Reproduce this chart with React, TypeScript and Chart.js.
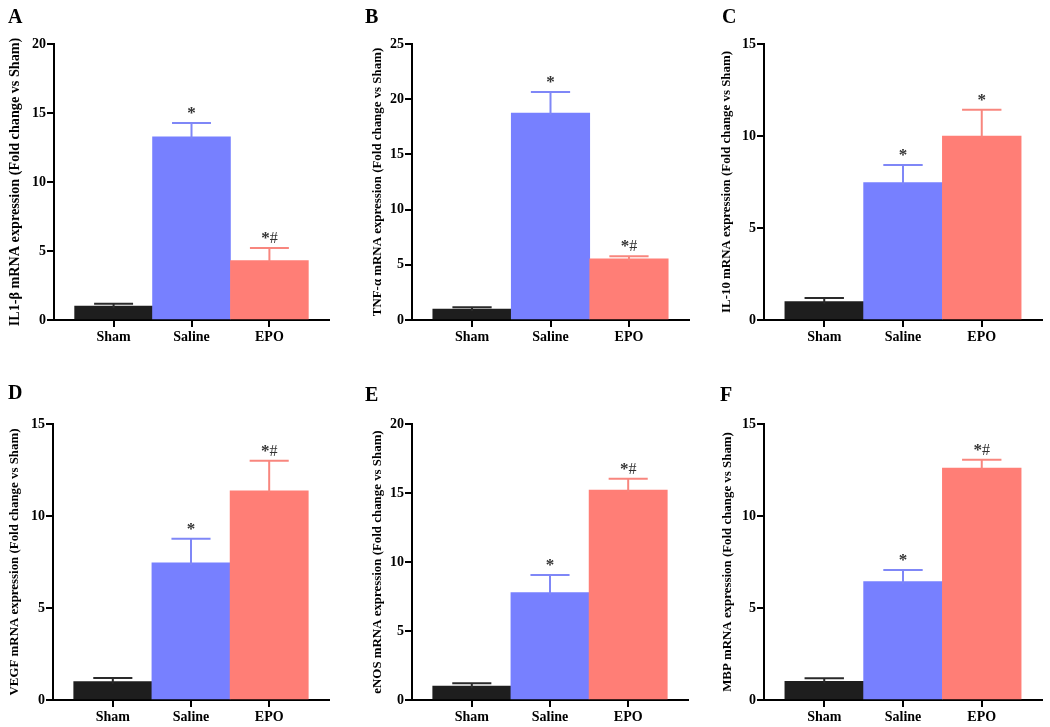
import React, { useEffect, useRef } from 'react';
import { Chart, registerables } from 'chart.js';

Chart.register(...registerables);

const FONT = "'Liberation Serif', 'Times New Roman', serif";

// ---- data ----
const categories = ['Sham', 'Saline', 'EPO'];
const barColors = ['#1e1e1e', '#7780ff', '#ff7e76'];
const errColors = ['#2a2a2a', '#7f87f7', '#f8867e'];

const il1bMean = [1.0, 13.28, 4.3];
const il1bErr = [0.17, 1.0, 0.92];
const il1bMarks = ['', '*', '*#'];

const tnfMean = [1.0, 18.75, 5.53];
const tnfErr = [0.15, 1.9, 0.25];
const tnfMarks = ['', '*', '*#'];

const il10Mean = [1.0, 7.47, 9.99];
const il10Err = [0.2, 0.95, 1.43];
const il10Marks = ['', '*', '*'];

const vegfMean = [1.0, 7.45, 11.37];
const vegfErr = [0.19, 1.32, 1.63];
const vegfMarks = ['', '*', '*#'];

const enosMean = [1.0, 7.78, 15.22];
const enosErr = [0.22, 1.28, 0.82];
const enosMarks = ['', '*', '*#'];

const mbpMean = [1.02, 6.43, 12.61];
const mbpErr = [0.16, 0.64, 0.45];
const mbpMarks = ['', '*', '*#'];

const panelLetters = ['A', 'B', 'C', 'D', 'E', 'F'];
const yTitles = [
  'IL1-β mRNA expression (Fold change vs Sham)',
  'TNF-α mRNA expression (Fold change vs Sham)',
  'IL-10 mRNA expression (Fold change vs Sham)',
  'VEGF mRNA expression (Fold change vs Sham)',
  'eNOS mRNA expression (Fold change vs Sham)',
  'MBP mRNA expression (Fold change vs Sham)',
];
const yMaxima = [20, 25, 15, 15, 20, 15];
const yStep = 5;

const panelData = [
  { mean: il1bMean, err: il1bErr, marks: il1bMarks },
  { mean: tnfMean, err: tnfErr, marks: tnfMarks },
  { mean: il10Mean, err: il10Err, marks: il10Marks },
  { mean: vegfMean, err: vegfErr, marks: vegfMarks },
  { mean: enosMean, err: enosErr, marks: enosMarks },
  { mean: mbpMean, err: mbpErr, marks: mbpMarks },
];

// ---- layout (pixels) ----
const layouts = [
  { left: 0, top: 0, w: 350, h: 360, axisL: 54, axisR: 329, areaT: 44, areaB: 320, titleX: 15, titleSize: 14.2, letterX: 8, letterY: 6 },
  { left: 350, top: 0, w: 350, h: 360, axisL: 62, axisR: 339, areaT: 44, areaB: 320, titleX: 28, titleSize: 12.9, letterX: 15, letterY: 6 },
  { left: 700, top: 0, w: 350, h: 360, axisL: 64, axisR: 342, areaT: 44, areaB: 320, titleX: 27, titleSize: 12.9, letterX: 22, letterY: 6 },
  { left: 0, top: 380, w: 350, h: 347, axisL: 53, axisR: 329, areaT: 44, areaB: 320, titleX: 15, titleSize: 12.9, letterX: 8, letterY: 2 },
  { left: 350, top: 380, w: 350, h: 347, axisL: 62, axisR: 338, areaT: 44, areaB: 320, titleX: 28, titleSize: 12.9, letterX: 15, letterY: 4 },
  { left: 700, top: 380, w: 350, h: 347, axisL: 64, axisR: 342, areaT: 44, areaB: 320, titleX: 28, titleSize: 12.9, letterX: 20, letterY: 4 },
];

function Panel({ idx }: { idx: number }) {
  const ref = useRef<HTMLCanvasElement | null>(null);
  const L = layouts[idx];
  useEffect(() => {
    const d = panelData[idx];
    const errorPlugin = {
      id: 'errbars' + idx,
      afterDatasetsDraw(chart: any) {
        const ctx = chart.ctx;
        const meta = chart.getDatasetMeta(0);
        const ys = chart.scales.y;
        meta.data.forEach((el: any, i: number) => {
          const x = el.x;
          const yTop = el.y;
          const yCap = ys.getPixelForValue(d.mean[i] + d.err[i]);
          const half = el.width / 4;
          ctx.save();
          ctx.strokeStyle = errColors[i];
          ctx.lineWidth = 2;
          ctx.beginPath();
          ctx.moveTo(x, yTop + 2);
          ctx.lineTo(x, yCap);
          ctx.stroke();
          ctx.beginPath();
          ctx.moveTo(x - half, yCap);
          ctx.lineTo(x + half, yCap);
          ctx.stroke();
          const mark = d.marks[i];
          if (mark) {
            const parts = mark.split('').map((c: string) => ({
              c,
              font: (c === '*' ? 'bold 17px ' : '16px ') + FONT,
              w: 0,
            }));
            let total = 0;
            parts.forEach((p: any) => {
              ctx.font = p.font;
              p.w = ctx.measureText(p.c).width;
              total += p.w;
            });
            let cx = x - total / 2;
            ctx.fillStyle = '#333333';
            ctx.textBaseline = 'alphabetic';
            ctx.textAlign = 'left';
            parts.forEach((p: any) => {
              ctx.font = p.font;
              ctx.fillText(p.c, cx, yCap - 5);
              cx += p.w;
            });
          }
          ctx.restore();
        });
      },
    };

    const xH = L.h - L.areaB;
    const chart = new Chart(ref.current as HTMLCanvasElement, {
      type: 'bar',
      data: {
        datasets: [
          {
            data: d.mean.map((v: number, i: number) => ({ x: i, y: v })),
            backgroundColor: barColors,
            borderWidth: 0,
            barPercentage: 1,
            categoryPercentage: 1,
          },
        ],
      },
      options: {
        responsive: false,
        animation: false,
        events: [],
        layout: { padding: { left: 0, top: L.areaT, right: L.w - L.axisR, bottom: 0 } },
        plugins: { legend: { display: false }, tooltip: { enabled: false } },
        scales: {
          x: {
            type: 'linear',
            bounds: 'data',
            offset: false,
            min: -0.765,
            max: 2.765,
            afterBuildTicks: (s: any) => {
              s.ticks = [0, 1, 2].map((v) => ({ value: v }));
            },
            afterFit: (s: any) => {
              s.height = xH;
            },
            ticks: {
              autoSkip: false,
              maxRotation: 0,
              padding: 2,
              color: '#000',
              font: { family: FONT, size: 14, weight: 'bold' },
              callback: (v: any) => categories[v],
            },
            grid: { display: true, offset: false, drawOnChartArea: false, drawTicks: true, tickLength: 7, color: '#000', lineWidth: 2 },
            border: { display: true, color: '#000', width: 2 },
          },
          y: {
            type: 'linear',
            min: 0,
            max: yMaxima[idx],
            afterFit: (s: any) => {
              s.width = L.axisL;
            },
            ticks: {
              stepSize: yStep,
              padding: 1,
              color: '#000',
              font: { family: FONT, size: 14, weight: 'bold' },
            },
            grid: { display: true, offset: false, drawOnChartArea: false, drawTicks: true, tickLength: 7, color: '#000', lineWidth: 2 },
            border: { display: true, color: '#000', width: 2 },
            title: {
              display: true,
              text: yTitles[idx],
              color: '#000',
              font: { family: FONT, size: L.titleSize, weight: 'bold' },
              padding: { top: L.titleX - (L.titleSize * 1.2) / 2, bottom: 0 },
            },
          },
        },
      },
      plugins: [errorPlugin],
    } as any);
    return () => chart.destroy();
  }, [idx]);

  return (
    <div style={{ position: 'absolute', left: L.left, top: L.top, width: L.w, height: L.h }}>
      <canvas ref={ref} width={L.w} height={L.h} style={{ display: 'block' }} />
      <div
        style={{
          position: 'absolute',
          left: L.letterX,
          top: L.letterY,
          fontFamily: FONT,
          fontWeight: 'bold',
          fontSize: 20,
          lineHeight: '20px',
          color: '#000',
        }}
      >
        {panelLetters[idx]}
      </div>
    </div>
  );
}

export default function App() {
  return (
    <div style={{ position: 'absolute', left: 0, top: 0, width: 1050, height: 727, background: '#fff', overflow: 'hidden' }}>
      {panelLetters.map((_, i) => (
        <Panel key={i} idx={i} />
      ))}
    </div>
  );
}
